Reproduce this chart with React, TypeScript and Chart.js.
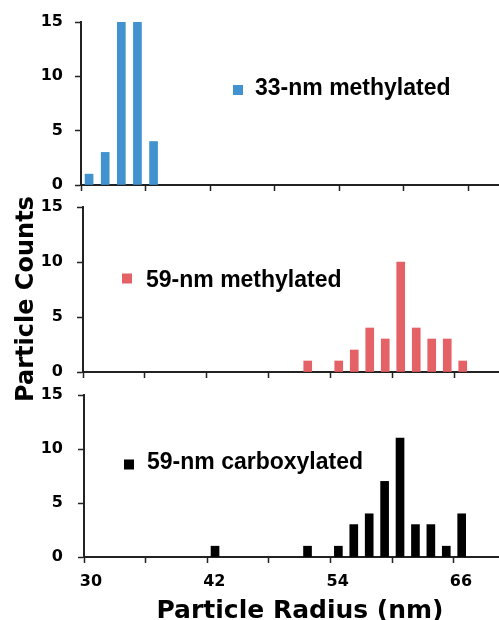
import React, { useEffect, useRef } from 'react';
import { Chart, registerables } from 'chart.js';

Chart.register(...registerables);

// ---- data ----
const topRadius = [30.75, 32.25, 33.75, 35.25, 36.75];
const topCounts = [1, 3, 15, 15, 4];
const midRadius = [51.75, 54.75, 56.25, 57.75, 59.25, 60.75, 62.25, 63.75, 65.25, 66.75];
const midCounts = [1, 1, 2, 4, 3, 10, 4, 3, 3, 1];
const botRadius = [42.75, 51.75, 54.75, 56.25, 57.75, 59.25, 60.75, 62.25, 63.75, 65.25, 66.75];
const botCounts = [1, 1, 1, 3, 4, 7, 11, 3, 3, 1, 4];
const seriesNames = ['33-nm methylated', '59-nm methylated', '59-nm carboxylated'];
const seriesColors = ['#4192CF', '#E46165', '#000000'];
const xLabeledTicks = [30, 42, 54, 66];
const xTitle = 'Particle Radius (nm)';
const yTitle = 'Particle Counts';

const FONT = '"DejaVu Sans", "Liberation Sans", Arial, sans-serif';
const LEGEND_FONT = '"Liberation Sans", Arial, sans-serif';
const W = 499;
const H = 620;

type Panel = {
  radius: number[];
  counts: number[];
  name: string;
  color: string;
  top: number;
  bottom: number;
  left: number;
  xMax: number;
  sqX: number;
  sqY: number;
  textX: number;
  baseline: number;
  yPad: number;
  bottomPanel: boolean;
};

const panels: Panel[] = [
  { radius: topRadius, counts: topCounts, name: seriesNames[0], color: seriesColors[0], top: 22, bottom: 185, left: 81, xMax: 68.88, sqX: 233, sqY: 85, textX: 255, baseline: 95, yPad: 12, bottomPanel: false },
  { radius: midRadius, counts: midCounts, name: seriesNames[1], color: seriesColors[1], top: 207, bottom: 372, left: 83, xMax: 70.26, sqX: 122, sqY: 273.5, textX: 146, baseline: 287, yPad: 14, bottomPanel: false },
  { radius: botRadius, counts: botCounts, name: seriesNames[2], color: seriesColors[2], top: 395, bottom: 557, left: 84, xMax: 70.38, sqX: 124, sqY: 459.5, textX: 147, baseline: 469, yPad: 15, bottomPanel: true },
];

const panelLabelPlugin = {
  id: 'panelLabel',
  afterDraw(chart: any, _args: any, opts: any) {
    if (!opts || !opts.text) return;
    const ctx = chart.ctx;
    ctx.save();
    ctx.fillStyle = opts.color;
    ctx.fillRect(opts.sqX, opts.sqY, 10, 10);
    ctx.fillStyle = '#000';
    ctx.font = `bold 23px ${LEGEND_FONT}`;
    ctx.textAlign = 'left';
    ctx.textBaseline = 'alphabetic';
    ctx.fillText(opts.text, opts.textX, opts.baseline);
    ctx.restore();
  },
};

const axisTitlesPlugin = {
  id: 'axisTitles',
  afterDraw(chart: any, _args: any, opts: any) {
    if (!opts || !opts.show) return;
    const ctx = chart.ctx;
    ctx.save();
    ctx.fillStyle = '#000';
    ctx.textAlign = 'center';
    ctx.textBaseline = 'alphabetic';
    ctx.font = `bold 25px ${FONT}`;
    ctx.fillText(opts.xTitle, 300, 618);
    ctx.font = `bold 24px ${FONT}`;
    ctx.translate(33, 299);
    ctx.rotate(-Math.PI / 2);
    ctx.fillText(opts.yTitle, 0, 0);
    ctx.restore();
  },
};

function PanelChart({ p }: { p: Panel }) {
  const ref = useRef<HTMLCanvasElement | null>(null);
  useEffect(() => {
    if (!ref.current) return;
    const xAxisH = p.bottomPanel ? 40 : 10;
    const chart = new Chart(ref.current, {
      type: 'bar',
      data: {
        datasets: [
          {
            label: p.name,
            data: p.radius.map((r, i) => ({ x: r, y: p.counts[i] })),
            backgroundColor: p.color,
            borderWidth: 0,
            barThickness: 8,
          },
        ],
      },
      options: {
        animation: false,
        responsive: false,
        events: [],
        layout: {
          padding: { top: p.top, left: 0, right: 0, bottom: H - p.bottom - xAxisH },
        },
        plugins: {
          legend: { display: false },
          tooltip: { enabled: false },
          panelLabel: { text: p.name, color: p.color, sqX: p.sqX, sqY: p.sqY, textX: p.textX, baseline: p.baseline },
          axisTitles: { show: p.bottomPanel, xTitle, yTitle },
        } as any,
        scales: {
          x: {
            type: 'linear',
            min: 30,
            max: p.xMax,
            offset: false,
            grid: {
              offset: false,
              drawOnChartArea: false,
              drawTicks: true,
              tickLength: 6,
              tickColor: '#222',
              tickWidth: 1.5,
            },
            border: { display: true, color: '#222', width: 2 },
            ticks: {
              display: p.bottomPanel,
              stepSize: 6,
              includeBounds: false,
              padding: 9,
              labelOffset: 7,
              maxRotation: 0,
              autoSkip: false,
              color: '#000',
              font: { family: FONT, size: 16, weight: 'bold' },
              callback: (v: any) => (xLabeledTicks.includes(Number(v)) ? String(v) : ''),
            },
            afterFit: (s: any) => {
              s.height = xAxisH;
            },
          },
          y: {
            min: 0,
            max: 15,
            grid: {
              drawOnChartArea: false,
              drawTicks: true,
              tickLength: 6,
              tickColor: '#222',
              tickWidth: 1.5,
            },
            border: { display: true, color: '#222', width: 2 },
            ticks: {
              stepSize: 5,
              padding: p.yPad,
              color: '#000',
              font: { family: FONT, size: 16, weight: 'bold' },
            },
            afterFit: (s: any) => {
              s.width = p.left;
            },
          },
        },
      } as any,
      plugins: [panelLabelPlugin, axisTitlesPlugin],
    });
    return () => chart.destroy();
  }, [p]);
  return (
    <canvas
      ref={ref}
      width={W}
      height={H}
      style={{ position: 'absolute', left: 0, top: 0, width: W, height: H }}
    />
  );
}

export default function App() {
  return (
    <div style={{ position: 'absolute', left: 0, top: 0, width: W, height: H, background: '#fff', overflow: 'hidden' }}>
      {panels.map((p, i) => (
        <PanelChart key={i} p={p} />
      ))}
    </div>
  );
}
